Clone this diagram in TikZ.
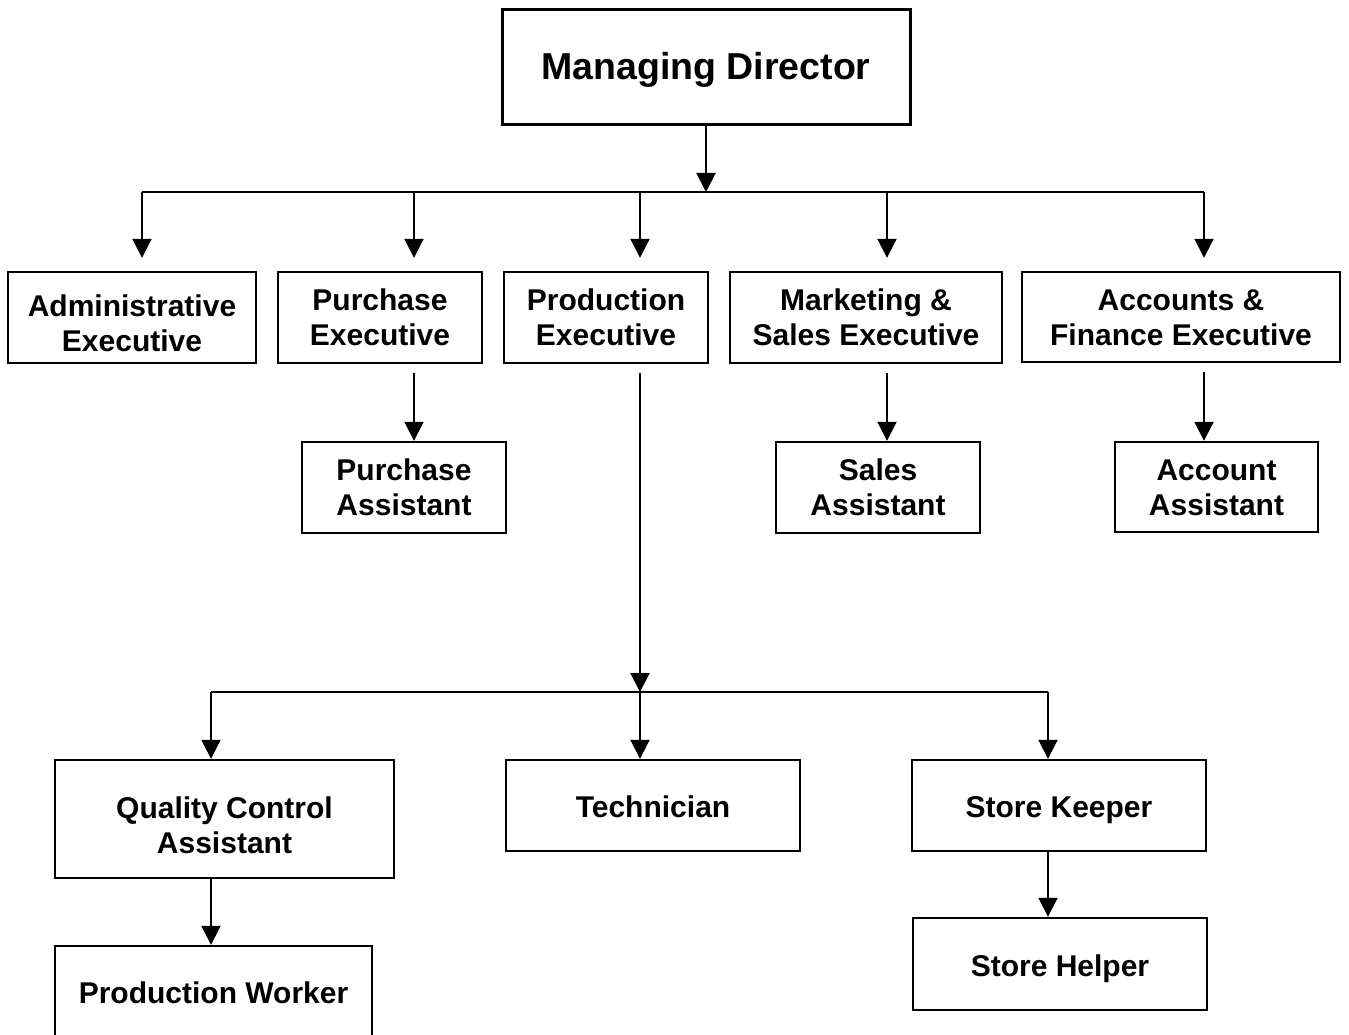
\documentclass[tikz,border=0pt]{standalone}
\usepackage{fontspec}
\setmainfont{Liberation Sans}
\usetikzlibrary{arrows.meta}
\newcommand{\twoline}[2]{\begin{tabular}[t]{@{}c@{}}#1\\#2\end{tabular}}
\tikzset{
  box/.style={draw, line width=2.4pt, inner sep=0pt,
    font=\bfseries\fontsize{30}{35}\selectfont},
  oneln/.style={text height=24.5pt, text depth=0pt},
  twoln/.style={text height=22pt, text depth=35.5pt},
  conn/.style={line width=2pt, -{Triangle[width=19pt,length=19pt]}},
  busline/.style={line width=2pt},
}
\begin{document}
\begin{tikzpicture}[x=1pt,y=-1pt]
\useasboundingbox (0,0) rectangle (1349,1035);
\clip (0,0) rectangle (1349,1035);
\fill[white] (0,0) rectangle (1349,1035);

% nodes
\node[box, line width=3pt, minimum width=408pt, minimum height=115pt,
  text height=23.8pt, text depth=0pt,
  font=\bfseries\fontsize{37.5}{44}\selectfont] (md) at (706,67.5) {Managing Director};

\node[box, twoln, text depth=24.5pt, minimum width=248pt, minimum height=91pt] (adm)  at (132,317.5) {\twoline{Administrative}{Executive}};
\node[box, twoln, minimum width=204pt, minimum height=91pt] (pur)  at (380,317.5) {\twoline{Purchase}{Executive}};
\node[box, twoln, minimum width=204pt, minimum height=91pt] (prod) at (606,317.5) {\twoline{Production}{Executive}};
\node[box, twoln, minimum width=272pt, minimum height=91pt] (mkt)  at (866,317.5) {\twoline{Marketing \&}{Sales Executive}};
\node[box, twoln, minimum width=318pt, minimum height=90pt] (acc)  at (1181,317) {\twoline{Accounts \&}{Finance Executive}};

\node[box, twoln, minimum width=204pt, minimum height=91pt] (pa) at (404,487.5) {\twoline{Purchase}{Assistant}};
\node[box, twoln, minimum width=204pt, minimum height=91pt] (sa) at (878,487.5) {\twoline{Sales}{Assistant}};
\node[box, twoln, minimum width=203pt, minimum height=90pt] (aa) at (1216.5,487) {\twoline{Account}{Assistant}};

\node[box, twoln, text depth=23.5pt, minimum width=339pt, minimum height=118pt] (qc) at (224.5,819) {\twoline{Quality Control}{Assistant}};
\node[box, oneln, minimum width=294pt, minimum height=91pt]  (tech) at (653,805.5) {Technician};
\node[box, oneln, minimum width=294pt, minimum height=91pt]  (sk)   at (1059,805.5) {Store Keeper};
\node[box, oneln, minimum width=294pt, minimum height=92pt]  (sh)   at (1060,964) {Store Helper};
\node[box, oneln, text height=19.5pt, minimum width=317pt, minimum height=96pt] (pw) at (213.5,994) {Production Worker};

% bus coordinates
\coordinate (m0) at (706,192);
\coordinate (b1) at (142,192);
\coordinate (b2) at (414,192);
\coordinate (b3) at (640,192);
\coordinate (b4) at (887,192);
\coordinate (b5) at (1204,192);

\coordinate (c1) at (211,692);
\coordinate (c3) at (640,692);
\coordinate (c5) at (1048,692);

% top level
\draw[conn] (md.south -| m0) -- (m0);
\draw[busline] (b1) -- (b5);
\draw[conn, shorten >=13pt] (b1) -- (b1 |- adm.north);
\draw[conn, shorten >=13pt] (b2) -- (b2 |- pur.north);
\draw[conn, shorten >=13pt] (b3) -- (b3 |- prod.north);
\draw[conn, shorten >=13pt] (b4) -- (b4 |- mkt.north);
\draw[conn, shorten >=13pt] (b5) -- (b5 |- acc.north);

% second level
\draw[conn, shorten <=9pt] (pur.south -| b2) -- (pa.north -| b2);
\draw[conn, shorten <=9pt] (mkt.south -| b4) -- (sa.north -| b4);
\draw[conn, shorten <=9pt] (acc.south -| b5) -- (aa.north -| b5);

% production branch
\draw[conn, shorten <=9pt] (prod.south -| b3) -- (c3);
\draw[busline] (c1) -- (c5);
\draw[conn] (c1) -- (c1 |- qc.north);
\draw[conn] (c3) -- (c3 |- tech.north);
\draw[conn] (c5) -- (c5 |- sk.north);

\draw[conn] (qc.south -| c1) -- (pw.north -| c1);
\draw[conn] (sk.south -| c5) -- (sh.north -| c5);
\end{tikzpicture}
\end{document}
